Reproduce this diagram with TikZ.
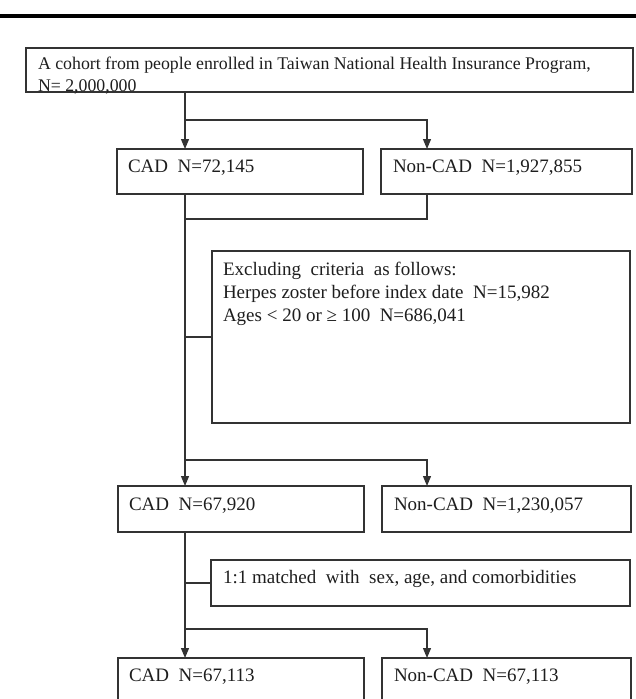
\documentclass[tikz,border=0pt]{standalone}
\usepackage{fontspec}
\setmainfont{Liberation Serif}
\usetikzlibrary{arrows.meta}
\definecolor{ink}{HTML}{1E1E1E}
\definecolor{edge}{HTML}{333333}
\tikzset{
  box/.style={draw=edge, line width=1.3pt, rectangle, inner sep=0pt, outer sep=0pt},
  txt/.style={inner sep=0pt, outer sep=0pt, anchor=base west, text=ink, font=\fontsize{19}{23}\selectfont},
  toptxt/.style={txt, font=\fontsize{17.8}{22}\selectfont},
  conn/.style={draw=edge, line width=1.2pt},
  arr/.style={conn, -{Triangle[length=10pt,width=8pt]}}
}
\begin{document}
\begin{tikzpicture}[x=1pt,y=-1pt]
\clip (0,0) rectangle (636,699);
\fill[white] (0,0) rectangle (636,699);
% top rule
\coordinate (rl) at (0,16);
\coordinate (rr) at (636,16);
\draw[line width=4pt, black] (rl) -- (rr);
% boxes
\node[box, minimum width=607pt, minimum height=44pt] (top) at (329.5,70) {};
\node[box, minimum width=246pt, minimum height=45pt] (cad1) at (240,171.5) {};
\node[box, minimum width=251pt, minimum height=45pt] (ncad1) at (506.5,171.5) {};
\node[box, minimum width=418pt, minimum height=172pt] (excl) at (421,337) {};
\node[box, minimum width=246pt, minimum height=46pt] (cad2) at (241,509) {};
\node[box, minimum width=249pt, minimum height=46pt] (ncad2) at (506.5,509) {};
\node[box, minimum width=419pt, minimum height=46pt] (match) at (420.5,583) {};
\node[box, minimum width=246pt, minimum height=46pt] (cad3) at (241,681) {};
\node[box, minimum width=249pt, minimum height=46pt] (ncad3) at (506.5,681) {};
% texts
\node[toptxt] (t1a) at ([xshift=12pt,yshift=-21pt]top.north west) {A cohort from people enrolled in Taiwan National Health Insurance Program,};
\node[toptxt] (t1b) at ([xshift=12pt,yshift=-43pt]top.north west) {N= 2,000,000};
\node[txt] (t2) at ([xshift=11pt,yshift=-23pt]cad1.north west) {CAD\ \ N=72,145};
\node[txt] (t3) at ([xshift=12pt,yshift=-23pt]ncad1.north west) {Non-CAD\ \ N=1,927,855};
\node[txt] (t4a) at ([xshift=11pt,yshift=-24pt]excl.north west) {Excluding\ \ criteria\ \ as follows:};
\node[txt] (t4b) at ([xshift=11pt,yshift=-47pt]excl.north west) {Herpes zoster\ before\ index\ date\ \ N=15,982};
\node[txt] (t4c) at ([xshift=11pt,yshift=-70pt]excl.north west) {Ages < 20 or ≥ 100\ \ N=686,041};
\node[txt] (t5) at ([xshift=11pt,yshift=-24pt]cad2.north west) {CAD\ \ N=67,920};
\node[txt] (t6) at ([xshift=12pt,yshift=-24pt]ncad2.north west) {Non-CAD\ \ N=1,230,057};
\node[txt] (t7) at ([xshift=12pt,yshift=-23pt]match.north west) {1:1 matched\ \ with\ \ sex, age, and comorbidities};
\node[txt] (t8) at ([xshift=11pt,yshift=-23pt]cad3.north west) {CAD\ \ N=67,113};
\node[txt] (t9) at ([xshift=12pt,yshift=-23pt]ncad3.north west) {Non-CAD\ \ N=67,113};
% connector coordinates
\coordinate (c1) at (185,120);
\coordinate (n1) at (427,120);
\coordinate (j1) at (185,219);
\coordinate (jn) at (427,219);
\coordinate (e1) at (185,337);
\coordinate (c2) at (185,460);
\coordinate (n2) at (427,460);
\coordinate (m1) at (185,583);
\coordinate (c3) at (185,629);
\coordinate (n3) at (427,629);
% first split
\draw[conn] (top.south -| c1) -- (c1);
\draw[arr] (c1) -- (c1 |- cad1.north);
\draw[arr] (c1) -- (n1) -- (n1 |- ncad1.north);
% join
\draw[conn] (ncad1.south -| jn) -- (jn) -- (j1);
\draw[conn] (cad1.south -| c2) -- (c2);
\draw[conn] (e1) -- (e1 -| excl.west);
% second split
\draw[arr] (c2) -- (c2 |- cad2.north);
\draw[arr] (c2) -- (n2) -- (n2 |- ncad2.north);
% matching
\draw[conn] (cad2.south -| c3) -- (c3);
\draw[conn] (m1) -- (match.west);
\draw[arr] (c3) -- (c3 |- cad3.north);
\draw[arr] (c3) -- (n3) -- (n3 |- ncad3.north);
\end{tikzpicture}
\end{document}
